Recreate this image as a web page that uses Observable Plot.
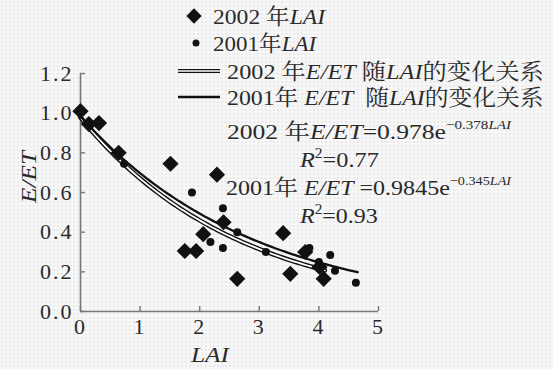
<!DOCTYPE html>
<html><head><meta charset="utf-8">
<script src="https://cdn.jsdelivr.net/npm/d3@7"></script>
<script src="https://cdn.jsdelivr.net/npm/@observablehq/plot@0.6"></script>
<style>
body{margin:0;background:#f4f4f4;}
#chart{position:relative;width:553px;height:369px;background-color:#f7f7f7;background-image:radial-gradient(#d8d8d8 0.6px, transparent 0.8px);background-size:4px 4px;}
#chart svg text{font-family:"Liberation Serif","Noto Serif CJK SC","Noto Sans CJK SC",serif;}
</style></head><body><div id="chart"></div>
<script>
// 2002 observations (diamonds)
const lai2002 = [0.00, 0.14, 0.31, 0.64, 1.51, 1.75, 1.94, 2.06, 2.29, 2.40, 2.63, 3.40, 3.52, 3.77, 4.01, 4.08];
const eet2002 = [1.01, 0.945, 0.95, 0.80, 0.745, 0.305, 0.305, 0.39, 0.69, 0.45, 0.165, 0.395, 0.19, 0.30, 0.225, 0.165];
// 2001 observations (dots)
const lai2001 = [0.73, 1.87, 2.18, 2.39, 2.39, 2.63, 3.11, 3.84, 4.00, 4.19, 4.27, 4.62];
const eet2001 = [0.745, 0.60, 0.35, 0.52, 0.32, 0.40, 0.30, 0.32, 0.25, 0.285, 0.205, 0.145];
// fitted curves E/ET = a * exp(-b * LAI) as printed on the chart
const fit2002 = {a: 0.978, b: 0.378, from: 0, to: 4.1};
const fit2001 = {a: 0.9845, b: 0.345, from: 0, to: 4.65};
const xTicks = [0, 1, 2, 3, 4, 5];
const yTicks = [0, 0.2, 0.4, 0.6, 0.8, 1.0, 1.2];

const pts2002 = lai2002.map((x, i) => ({x, y: eet2002[i]}));
const pts2001 = lai2001.map((x, i) => ({x, y: eet2001[i]}));
function curve(f) {
  const n = 80, out = [];
  for (let i = 0; i <= n; i++) { const x = f.from + (f.to - f.from) * i / n; out.push({x, y: f.a * Math.exp(-f.b * x)}); }
  return out;
}
const c2002 = curve(fit2002), c2001 = curve(fit2001);

const FS = 22, SX = 1.15;
const plot = Plot.plot({
  width: 553, height: 369,
  marginLeft: 80, marginRight: 175, marginTop: 73, marginBottom: 58,
  style: {background: "transparent", color: "#222", fontSize: FS + "px"},
  x: {domain: [0, 5]},
  y: {domain: [0, 1.2]},
  marks: [
    Plot.ruleX([0], {stroke: "#777", strokeWidth: 1.6}),
    Plot.ruleY([0], {stroke: "#777", strokeWidth: 1.6}),
    Plot.axisY(yTicks, {tickSize: 5, dx: 5, tickPadding: 7, stroke: "#777", strokeWidth: 1.4, fill: "#2a2a2a", fontSize: FS, tickFormat: d => d.toFixed(1), label: null}),
    Plot.axisX(xTicks, {tickSize: 5, dy: -5, tickPadding: 7, stroke: "#777", strokeWidth: 1.4, fill: "#2a2a2a", fontSize: FS, tickFormat: d => String(d), label: null}),
    Plot.line(c2002, {x: "x", y: "y", stroke: "#111", strokeWidth: 4.6}),
    Plot.line(c2002, {x: "x", y: "y", stroke: "#fff", strokeWidth: 1.8}),
    Plot.line(c2001, {x: "x", y: "y", stroke: "#111", strokeWidth: 2.3}),
    Plot.dot(pts2001, {x: "x", y: "y", r: 4, fill: "#111"}),
    Plot.dot(pts2002, {x: "x", y: "y", r: 7.3, symbol: "diamond2", fill: "#111"})
  ]
});
document.getElementById("chart").appendChild(plot);
d3.select(plot).selectAll("text").attr("letter-spacing", "2px");

const svg = d3.select(plot);
const g = svg.append("g").attr("fill", "#2a2a2a").attr("font-size", FS).attr("text-anchor", "start");
function rich(x, y, parts, opts = {}) {
  const t = g.append("text").attr("x", 0).attr("y", 0);
  if (opts.anchor) t.attr("text-anchor", opts.anchor);
  for (const p of parts) {
    const s = t.append("tspan").text(p.t);
    if (p.i) s.attr("font-style", "italic");
    if (p.fs) s.attr("font-size", p.fs);
    if (p.dy !== undefined) s.attr("dy", p.dy);
  }
  let sx = SX;
  if (opts.w) { const bw = t.node().getBBox().width; if (bw > 0) sx = opts.w / bw; }
  let tr = `translate(${x},${y})`;
  if (opts.rotate) tr += " rotate(-90)";
  tr += ` scale(${sx},1)`;
  t.attr("transform", tr);
  return t;
}
// legend symbols
g.append("path").attr("d", d3.symbol(d3.symbolDiamond2, 150)()).attr("transform", "translate(194,16)").attr("fill", "#111");
g.append("circle").attr("cx", 196).attr("cy", 43).attr("r", 3.5).attr("fill", "#111");
g.append("line").attr("x1", 178).attr("x2", 220).attr("y1", 71).attr("y2", 71).attr("stroke", "#111").attr("stroke-width", 4);
g.append("line").attr("x1", 178).attr("x2", 220).attr("y1", 71).attr("y2", 71).attr("stroke", "#fff").attr("stroke-width", 1.6);
g.append("line").attr("x1", 178).attr("x2", 220).attr("y1", 97).attr("y2", 97).attr("stroke", "#111").attr("stroke-width", 2.3);

rich(213, 24, [{t: "2002 年"}, {t: "LAI", i: 1}], {w: 114});
rich(213, 51, [{t: "2001年"}, {t: "LAI", i: 1}], {w: 105});
rich(227, 79, [{t: "2002 年"}, {t: "E/ET", i: 1}, {t: " 随"}, {t: "LAI", i: 1}, {t: "的变化关系"}], {w: 317});
rich(227, 105, [{t: "2001年 "}, {t: "E/ET", i: 1}, {t: "  随"}, {t: "LAI", i: 1}, {t: "的变化关系"}], {w: 317});

rich(227, 139, [{t: "2002 年"}, {t: "E/ET", i: 1}, {t: "=0.978e"}, {t: "−0.378", fs: 13, dy: -10}, {t: "LAI", fs: 13, i: 1}], {w: 285});
rich(300, 167, [{t: "R", i: 1}, {t: "2", fs: 14, dy: -9}, {t: "=0.77", dy: 9}], {w: 80});
rich(226, 195, [{t: "2001年 "}, {t: "E/ET", i: 1}, {t: " =0.9845e"}, {t: "−0.345", fs: 13, dy: -10}, {t: "LAI", fs: 13, i: 1}], {w: 286});
rich(300, 223, [{t: "R", i: 1}, {t: "2", fs: 14, dy: -9}, {t: "=0.93", dy: 9}], {w: 79});

// axis titles
rich(36, 177, [{t: "E/ET", i: 1}], {rotate: true, anchor: "middle"});
rich(210, 362, [{t: "LAI", i: 1}], {anchor: "middle"});
</script></body></html>
